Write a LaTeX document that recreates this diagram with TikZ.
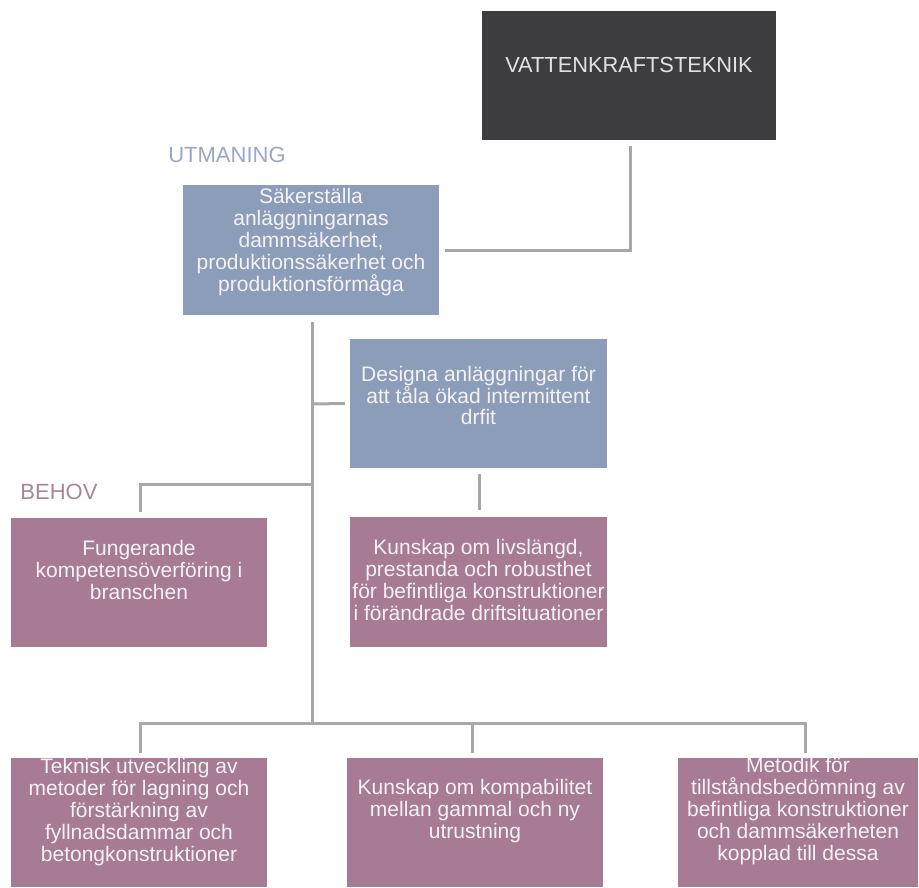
\documentclass[tikz,border=0pt]{standalone}
\usepackage{fontspec}
\setmainfont{Liberation Sans}
\usetikzlibrary{calc}
\definecolor{bluebox}{HTML}{8C9DBA}
\definecolor{mauvebox}{HTML}{A67B93}
\definecolor{darkbox}{HTML}{3D3C3F}
\definecolor{boxtext}{HTML}{F4F2F4}
\definecolor{toptext}{HTML}{E2E2E2}
\definecolor{linegray}{HTML}{A8A8A8}
\definecolor{utmcol}{HTML}{9BA7C6}
\definecolor{behcol}{HTML}{A98597}
\tikzset{
  boxnode/.style={draw=none, inner sep=0pt, minimum width=256pt, minimum height=129pt},
  txt/.style={align=center, text=boxtext, inner sep=0pt, font=\fontsize{21}{21.8}\selectfont},
  heading/.style={inner sep=0pt, font=\fontsize{22}{24}\selectfont},
  conn/.style={draw=linegray, line width=3pt}
}
\begin{document}
\begin{tikzpicture}[x=1pt,y=-1pt]
\useasboundingbox (0,0) rectangle (919,888);
\fill[white] (0,0) rectangle (919,888);

% top level
\node[boxnode, fill=darkbox, minimum width=294pt] (top) at (629,75.5) {};
\node[txt, text=toptext, font=\fontsize{21.8}{24}\selectfont] (toptxt) at (629,65) {VATTENKRAFTSTEKNIK};

% challenge
\node[heading, text=utmcol] (utm) at (227,155) {UTMANING};
\node[boxnode, fill=bluebox] (sak) at (311,250) {};
\node[txt] (saktxt) at (311,242) {Säkerställa\\anläggningarnas\\dammsäkerhet,\\produktionssäkerhet och\\produktionsförmåga};

\node[boxnode, fill=bluebox, minimum width=257pt] (des) at (478.5,403.5) {};
\node[txt] (destxt) at (478.5,395.5) {Designa anläggningar för\\att tåla ökad intermittent\\drfit};

% needs
\node[heading, text=behcol] (beh) at (59,492) {BEHOV};
\node[boxnode, fill=mauvebox] (fun) at (139,582.5) {};
\node[txt] (funtxt) at (139,570) {Fungerande\\kompetensöverföring i\\branschen};

\node[boxnode, fill=mauvebox, minimum width=257pt, minimum height=130pt] (liv) at (478.5,582) {};
\node[txt] (livtxt) at (478.5,580) {Kunskap om livslängd,\\prestanda och robusthet\\för befintliga konstruktioner\\i förändrade driftsituationer};

\node[boxnode, fill=mauvebox] (tek) at (139,822.5) {};
\node[txt] (tektxt) at (139,812) {Teknisk utveckling av\\metoder för lagning och\\förstärkning av\\fyllnadsdammar och\\betongkonstruktioner};

\node[boxnode, fill=mauvebox] (kom) at (475,822.5) {};
\node[txt] (komtxt) at (475,811) {Kunskap om kompabilitet\\mellan gammal och ny\\utrustning};

\node[boxnode, fill=mauvebox, minimum width=240pt] (met) at (798,822.5) {};
\node[txt] (mettxt) at (798,811) {Metodik för\\tillståndsbedömning av\\befintliga konstruktioner\\och dammsäkerheten\\kopplad till dessa};

% connectors
\coordinate (trunkTop) at ($(sak.south)+(1,7)$);
\coordinate (bus) at (312,723);
\draw[conn] ($(top.south)+(1,6)$) |- ($(sak.east)+(6,0)$);
\draw[conn] (trunkTop) -- (bus);
\draw[conn] (312,404) -- ($(des.west)+(-5,0)$);
\draw[conn] (312,484) -| ($(fun.north)+(1,-6)$);
\draw[conn] ($(des.south)+(0.5,6)$) -- ($(liv.north)+(0.5,-7)$);
\draw[conn] ($(tek.north)+(1,-5)$) |- (bus) -| ($(met.north)+(7,-5)$);
\draw[conn] (472,723) -- ($(kom.north)+(-3,-5)$);
\end{tikzpicture}
\end{document}
